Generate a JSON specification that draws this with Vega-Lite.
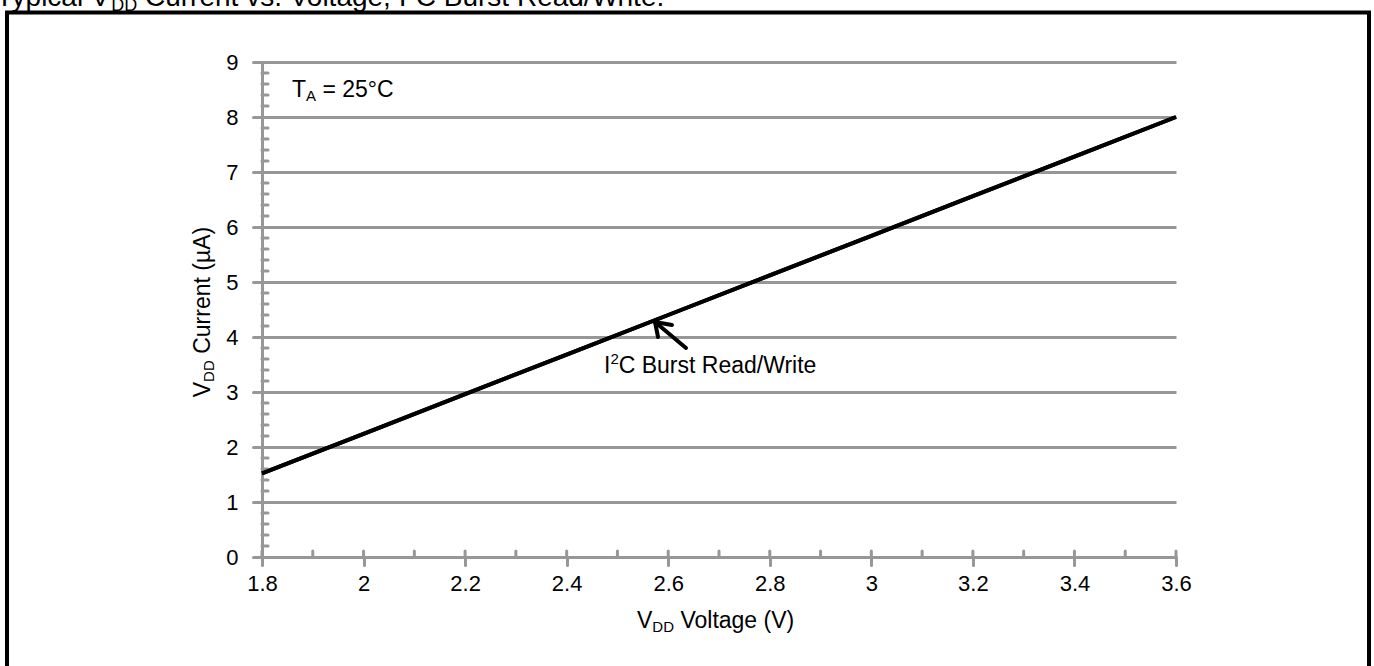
{
  "$schema": "https://vega.github.io/schema/vega-lite/v6.json",
  "width": 914,
  "height": 495,
  "autosize": "none",
  "padding": {"left": 262, "top": 62, "right": 198, "bottom": 109},
  "background": "white",
  "config": {
    "view": {"stroke": null},
    "font": "Liberation Sans",
    "text": {"font": "Liberation Sans", "color": "black"},
    "axis": {
      "domainColor": "#979797", "domainWidth": 3,
      "tickColor": "#979797", "tickWidth": 3, "tickCap": "round",
      "gridColor": "#979797", "gridWidth": 3,
      "labelFont": "Liberation Sans", "labelFontSize": 22, "labelColor": "black",
      "labelOverlap": false, "labelFlush": false
    },
    "axisX": {"tickSize": 8, "labelPadding": 8, "grid": false},
    "axisY": {"tickSize": 9, "labelPadding": 15, "grid": true}
  },
  "datasets": {
    "curve": [
      {"v": 1.8, "i": 1.52}, {"v": 2.0, "i": 2.24}, {"v": 2.2, "i": 2.96}, {"v": 2.4, "i": 3.68},
      {"v": 2.6, "i": 4.4}, {"v": 2.8, "i": 5.12}, {"v": 3.0, "i": 5.84}, {"v": 3.2, "i": 6.56},
      {"v": 3.4, "i": 7.28}, {"v": 3.6, "i": 8.0}
    ],
    "xminor": [
      {"t": 1.8}, {"t": 1.9}, {"t": 2.0}, {"t": 2.1}, {"t": 2.2}, {"t": 2.3}, {"t": 2.4}, {"t": 2.5},
      {"t": 2.6}, {"t": 2.7}, {"t": 2.8}, {"t": 2.9}, {"t": 3.0}, {"t": 3.1}, {"t": 3.2}, {"t": 3.3},
      {"t": 3.4}, {"t": 3.5}, {"t": 3.6}
    ],
    "yminor": [
      {"t": 0.2}, {"t": 0.4}, {"t": 0.6}, {"t": 0.8}, {"t": 1.2}, {"t": 1.4}, {"t": 1.6}, {"t": 1.8},
      {"t": 2.2}, {"t": 2.4}, {"t": 2.6}, {"t": 2.8}, {"t": 3.2}, {"t": 3.4}, {"t": 3.6}, {"t": 3.8},
      {"t": 4.2}, {"t": 4.4}, {"t": 4.6}, {"t": 4.8}, {"t": 5.2}, {"t": 5.4}, {"t": 5.6}, {"t": 5.8},
      {"t": 6.2}, {"t": 6.4}, {"t": 6.6}, {"t": 6.8}, {"t": 7.2}, {"t": 7.4}, {"t": 7.6}, {"t": 7.8},
      {"t": 8.2}, {"t": 8.4}, {"t": 8.6}, {"t": 8.8}
    ]
  },
  "layer": [
    {
      "data": {"name": "curve"},
      "mark": {"type": "line", "stroke": "black", "strokeWidth": 4, "clip": false},
      "encoding": {
        "x": {
          "field": "v", "type": "quantitative", "title": null,
          "scale": {"domain": [1.8, 3.6], "nice": false, "zero": false},
          "axis": {"title": null, "values": [1.8, 2, 2.2, 2.4, 2.6, 2.8, 3, 3.2, 3.4, 3.6], "format": ".1~f", "grid": false}
        },
        "y": {
          "field": "i", "type": "quantitative", "title": null,
          "scale": {"domain": [0, 9], "nice": false, "zero": true},
          "axis": {"title": null, "values": [0, 1, 2, 3, 4, 5, 6, 7, 8, 9], "format": "d", "grid": true}
        }
      }
    },
    {
      "data": {"name": "yminor"},
      "mark": {"type": "rule", "stroke": "#979797", "strokeWidth": 3, "strokeCap": "round", "clip": false},
      "encoding": {
        "y": {"field": "t", "type": "quantitative", "title": null},
        "x": {"datum": 1.8, "title": null},
        "x2": {"datum": 1.8118}
      }
    },
    {
      "data": {"name": "xminor"},
      "mark": {"type": "rule", "stroke": "#979797", "strokeWidth": 3, "strokeCap": "round", "clip": false},
      "encoding": {
        "x": {"field": "t", "type": "quantitative", "title": null},
        "y": {"datum": 0, "title": null},
        "y2": {"datum": 0.109}
      }
    },
    {
      "data": {"name": "curve"},
      "mark": {"type": "line", "stroke": "black", "strokeWidth": 4, "clip": false},
      "encoding": {
        "x": {"field": "v", "type": "quantitative", "title": null},
        "y": {"field": "i", "type": "quantitative", "title": null}
      }
    },
    {
      "data": {"values": [{}]},
      "mark": {"type": "rect", "filled": false, "fill": "transparent", "stroke": "black", "strokeWidth": 4, "clip": false},
      "encoding": {"x": {"datum": 1.2978, "title": null}, "x2": {"datum": 3.9801}, "y": {"datum": 9.9, "title": null}, "y2": {"datum": -2.45}}
    },
    {
      "data": {"values": [{}]},
      "mark": {"type": "rule", "stroke": "black", "strokeWidth": 4, "strokeCap": "round", "clip": false},
      "encoding": {"x": {"datum": 2.574, "title": null}, "y": {"datum": 4.273, "title": null}, "x2": {"datum": 2.635}, "y2": {"datum": 3.8}}
    },
    {
      "data": {"values": [{}]},
      "mark": {"type": "rule", "stroke": "black", "strokeWidth": 4, "strokeCap": "round", "clip": false},
      "encoding": {"x": {"datum": 2.574, "title": null}, "y": {"datum": 4.273, "title": null}, "x2": {"datum": 2.6074}, "y2": {"datum": 4.218}}
    },
    {
      "data": {"values": [{}]},
      "mark": {"type": "rule", "stroke": "black", "strokeWidth": 4, "strokeCap": "round", "clip": false},
      "encoding": {"x": {"datum": 2.574, "title": null}, "y": {"datum": 4.273, "title": null}, "x2": {"datum": 2.5799}, "y2": {"datum": 4.0}}
    },
    {
      "data": {"values": [{}]},
      "mark": {"type": "text", "text": "I", "fontSize": 23, "align": "left", "baseline": "alphabetic", "clip": false},
      "encoding": {"x": {"datum": 2.4735, "title": null}, "y": {"datum": 3.3455, "title": null}}
    },
    {
      "data": {"values": [{}]},
      "mark": {"type": "text", "text": "2", "fontSize": 15, "dy": -9, "align": "left", "baseline": "alphabetic", "clip": false},
      "encoding": {"x": {"datum": 2.48613, "title": null}, "y": {"datum": 3.3455, "title": null}}
    },
    {
      "data": {"values": [{}]},
      "mark": {"type": "text", "text": "C Burst Read/Write", "fontSize": 23, "align": "left", "baseline": "alphabetic", "clip": false},
      "encoding": {"x": {"datum": 2.50248, "title": null}, "y": {"datum": 3.3455, "title": null}}
    },
    {
      "data": {"values": [{}]},
      "mark": {"type": "text", "text": "T", "fontSize": 23, "align": "left", "baseline": "alphabetic", "clip": false},
      "encoding": {"x": {"datum": 1.8591, "title": null}, "y": {"datum": 8.3636, "title": null}}
    },
    {
      "data": {"values": [{}]},
      "mark": {"type": "text", "text": "A", "fontSize": 15, "dy": 4, "align": "left", "baseline": "alphabetic", "clip": false},
      "encoding": {"x": {"datum": 1.88675, "title": null}, "y": {"datum": 8.3636, "title": null}}
    },
    {
      "data": {"values": [{}]},
      "mark": {"type": "text", "text": "= 25°C", "fontSize": 23, "align": "left", "baseline": "alphabetic", "clip": false},
      "encoding": {"x": {"datum": 1.91895, "title": null}, "y": {"datum": 8.3636, "title": null}}
    },
    {
      "data": {"values": [{}]},
      "mark": {"type": "text", "text": "V", "fontSize": 23, "align": "left", "baseline": "alphabetic", "clip": false},
      "encoding": {"x": {"datum": 2.53851, "title": null}, "y": {"datum": -1.2909, "title": null}}
    },
    {
      "data": {"values": [{}]},
      "mark": {"type": "text", "text": "DD", "fontSize": 15, "dy": 4, "align": "left", "baseline": "alphabetic", "clip": false},
      "encoding": {"x": {"datum": 2.56865, "title": null}, "y": {"datum": -1.2909, "title": null}}
    },
    {
      "data": {"values": [{}]},
      "mark": {"type": "text", "text": "Voltage (V)", "fontSize": 23, "align": "left", "baseline": "alphabetic", "clip": false},
      "encoding": {"x": {"datum": 2.62399, "title": null}, "y": {"datum": -1.2909, "title": null}}
    },
    {
      "data": {"values": [{}]},
      "mark": {"type": "text", "text": "V", "fontSize": 23, "angle": 270, "align": "left", "baseline": "alphabetic", "clip": false},
      "encoding": {"x": {"datum": 1.69759, "title": null}, "y": {"datum": 2.9055, "title": null}}
    },
    {
      "data": {"values": [{}]},
      "mark": {"type": "text", "text": "DD", "fontSize": 15, "angle": 270, "dy": 4, "align": "left", "baseline": "alphabetic", "clip": false},
      "encoding": {"x": {"datum": 1.69759, "title": null}, "y": {"datum": 3.1836, "title": null}}
    },
    {
      "data": {"values": [{}]},
      "mark": {"type": "text", "text": "Current (µA)", "fontSize": 23, "angle": 270, "align": "left", "baseline": "alphabetic", "clip": false},
      "encoding": {"x": {"datum": 1.69759, "title": null}, "y": {"datum": 3.6945, "title": null}}
    },
    {
      "data": {"values": [{}]},
      "mark": {"type": "text", "text": "Typical V", "fontSize": 28, "align": "left", "baseline": "alphabetic", "clip": false},
      "encoding": {"x": {"datum": 1.27615, "title": null}, "y": {"datum": 10.018, "title": null}}
    },
    {
      "data": {"values": [{}]},
      "mark": {"type": "text", "text": "DD", "fontSize": 18, "dy": 5, "align": "left", "baseline": "alphabetic", "clip": false},
      "encoding": {"x": {"datum": 1.50302, "title": null}, "y": {"datum": 10.018, "title": null}}
    },
    {
      "data": {"values": [{}]},
      "mark": {"type": "text", "text": "Current vs. Voltage, I²C Burst Read/Write.", "fontSize": 28, "align": "left", "baseline": "alphabetic", "clip": false},
      "encoding": {"x": {"datum": 1.56958, "title": null}, "y": {"datum": 10.018, "title": null}}
    }
  ]
}
